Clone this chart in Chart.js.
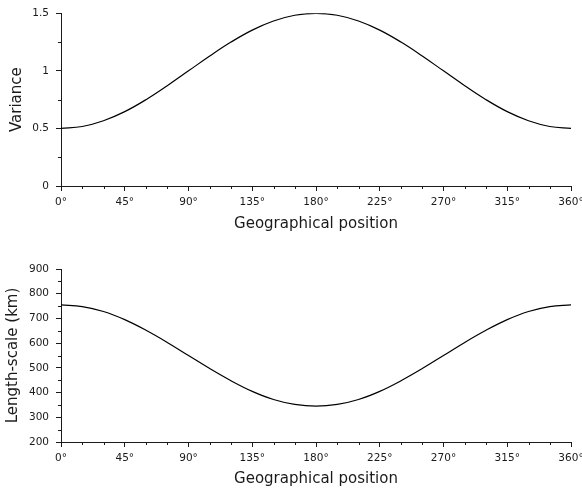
<!DOCTYPE html>
<html>
<head>
<meta charset="utf-8">
<script src="https://cdn.jsdelivr.net/npm/chart.js@4/dist/chart.umd.min.js"></script>
<style>
  html, body { margin: 0; padding: 0; background: #fff; }
  .panel { position: absolute; left: 0; width: 582px; }
  #topPanel { top: 0; height: 244px; }
  #bottomPanel { top: 244px; height: 245px; }
</style>
</head>
<body>
<div class="panel" id="topPanel"><canvas id="varianceChart" width="582" height="244"></canvas></div>
<div class="panel" id="bottomPanel"><canvas id="lengthChart" width="582" height="245"></canvas></div>
<script>
const INK = "#1a1a1a";

// geographical position (degrees) and the two profiles
const positions = [0, 15, 30, 45, 60, 75, 90, 105, 120, 135, 150, 165, 180,
  195, 210, 225, 240, 255, 270, 285, 300, 315, 330, 345, 360];
const variance = [0.500, 0.517, 0.567, 0.646, 0.750, 0.871, 1.000, 1.129, 1.250, 1.354, 1.433, 1.483, 1.500,
  1.483, 1.433, 1.354, 1.250, 1.129, 1.000, 0.871, 0.750, 0.646, 0.567, 0.517, 0.500];
const lengthScale = [755, 748, 728, 695, 652, 603, 550, 497, 448, 405, 372, 352, 345,
  352, 372, 405, 448, 497, 550, 603, 652, 695, 728, 748, 755];

// tick positions
const xTicks = [0, 45, 90, 135, 180, 225, 270, 315, 360];
const xMinor = [15, 30, 60, 75, 105, 120, 150, 165, 195, 210, 240, 255, 285, 300, 330, 345];
const varianceTicks = [0, 0.5, 1, 1.5];
const varianceMinor = [0.25, 0.75, 1.25];
const lengthTicks = [200, 300, 400, 500, 600, 700, 800, 900];
const lengthMinor = [250, 350, 450, 550, 650, 750, 850];

Chart.defaults.font.family = "'DejaVu Sans', sans-serif";
Chart.defaults.color = INK;

// short ticks between the labelled ones
const minorTicksPlugin = {
  id: "minorTicks",
  afterDraw(chart, args, opts) {
    const ctx = chart.ctx;
    const xs = chart.scales.x, ys = chart.scales.y;
    ctx.save();
    ctx.strokeStyle = INK;
    ctx.lineWidth = 1;
    ctx.beginPath();
    (opts.x || []).forEach((v) => {
      const px = Math.round(xs.getPixelForValue(v)) + 0.5;
      ctx.moveTo(px, xs.top);
      ctx.lineTo(px, xs.top + 3);
    });
    (opts.y || []).forEach((v) => {
      const py = Math.round(ys.getPixelForValue(v)) + 0.5;
      ctx.moveTo(ys.right, py);
      ctx.lineTo(ys.right - 3, py);
    });
    ctx.stroke();
    ctx.restore();
  },
};

function makeChart(id, values, yMin, yMax, yTicks, yMinor, yTitle, cfg) {
  return new Chart(document.getElementById(id), {
    type: "line",
    data: {
      datasets: [{
        data: positions.map((p, i) => ({ x: p, y: values[i] })),
        borderColor: "#000",
        borderWidth: 1.2,
        pointRadius: 0,
        tension: 0.4,
        fill: false,
      }],
    },
    options: {
      responsive: false,
      animation: false,
      layout: { padding: { top: cfg.padTop, right: 11, left: 0, bottom: 0 } },
      plugins: {
        legend: { display: false },
        tooltip: { enabled: false },
        minorTicks: { x: xMinor, y: yMinor },
      },
      scales: {
        x: {
          type: "linear",
          min: 0,
          max: 360,
          afterBuildTicks: (s) => { s.ticks = xTicks.map((v) => ({ value: v })); },
          afterFit: (s) => { s.height = cfg.xHeight; s.paddingLeft = 0; s.paddingRight = 0; },
          ticks: { font: { size: 10.5 }, padding: 5, maxRotation: 0, callback: (v) => v + "°" },
          grid: { drawOnChartArea: false, tickLength: 5, tickColor: INK },
          border: { color: INK, width: 1 },
          title: {
            display: true,
            text: "Geographical position",
            font: { size: 15, lineHeight: 1 },
            padding: { top: 0, bottom: cfg.xTitlePad },
          },
        },
        y: {
          type: "linear",
          min: yMin,
          max: yMax,
          afterBuildTicks: (s) => { s.ticks = yTicks.map((v) => ({ value: v })); },
          afterFit: (s) => { s.width = 61; },
          ticks: { font: { size: 10.5 }, padding: 7, callback: (v) => String(v) },
          grid: { drawOnChartArea: false, tickLength: 5, tickColor: INK },
          border: { color: INK, width: 1 },
          title: {
            display: true,
            text: yTitle,
            font: { size: 15, lineHeight: 1 },
            padding: { top: cfg.yTitlePad, bottom: 0 },
          },
        },
      },
    },
    plugins: [minorTicksPlugin],
  });
}

makeChart("varianceChart", variance, 0, 1.5, varianceTicks, varianceMinor, "Variance",
  { padTop: 13, xHeight: 58, xTitlePad: 12, yTitlePad: 10 });

makeChart("lengthChart", lengthScale, 200, 900, lengthTicks, lengthMinor, "Length-scale (km)",
  { padTop: 25, xHeight: 47, xTitlePad: 2, yTitlePad: 6 });
</script>
</body>
</html>
